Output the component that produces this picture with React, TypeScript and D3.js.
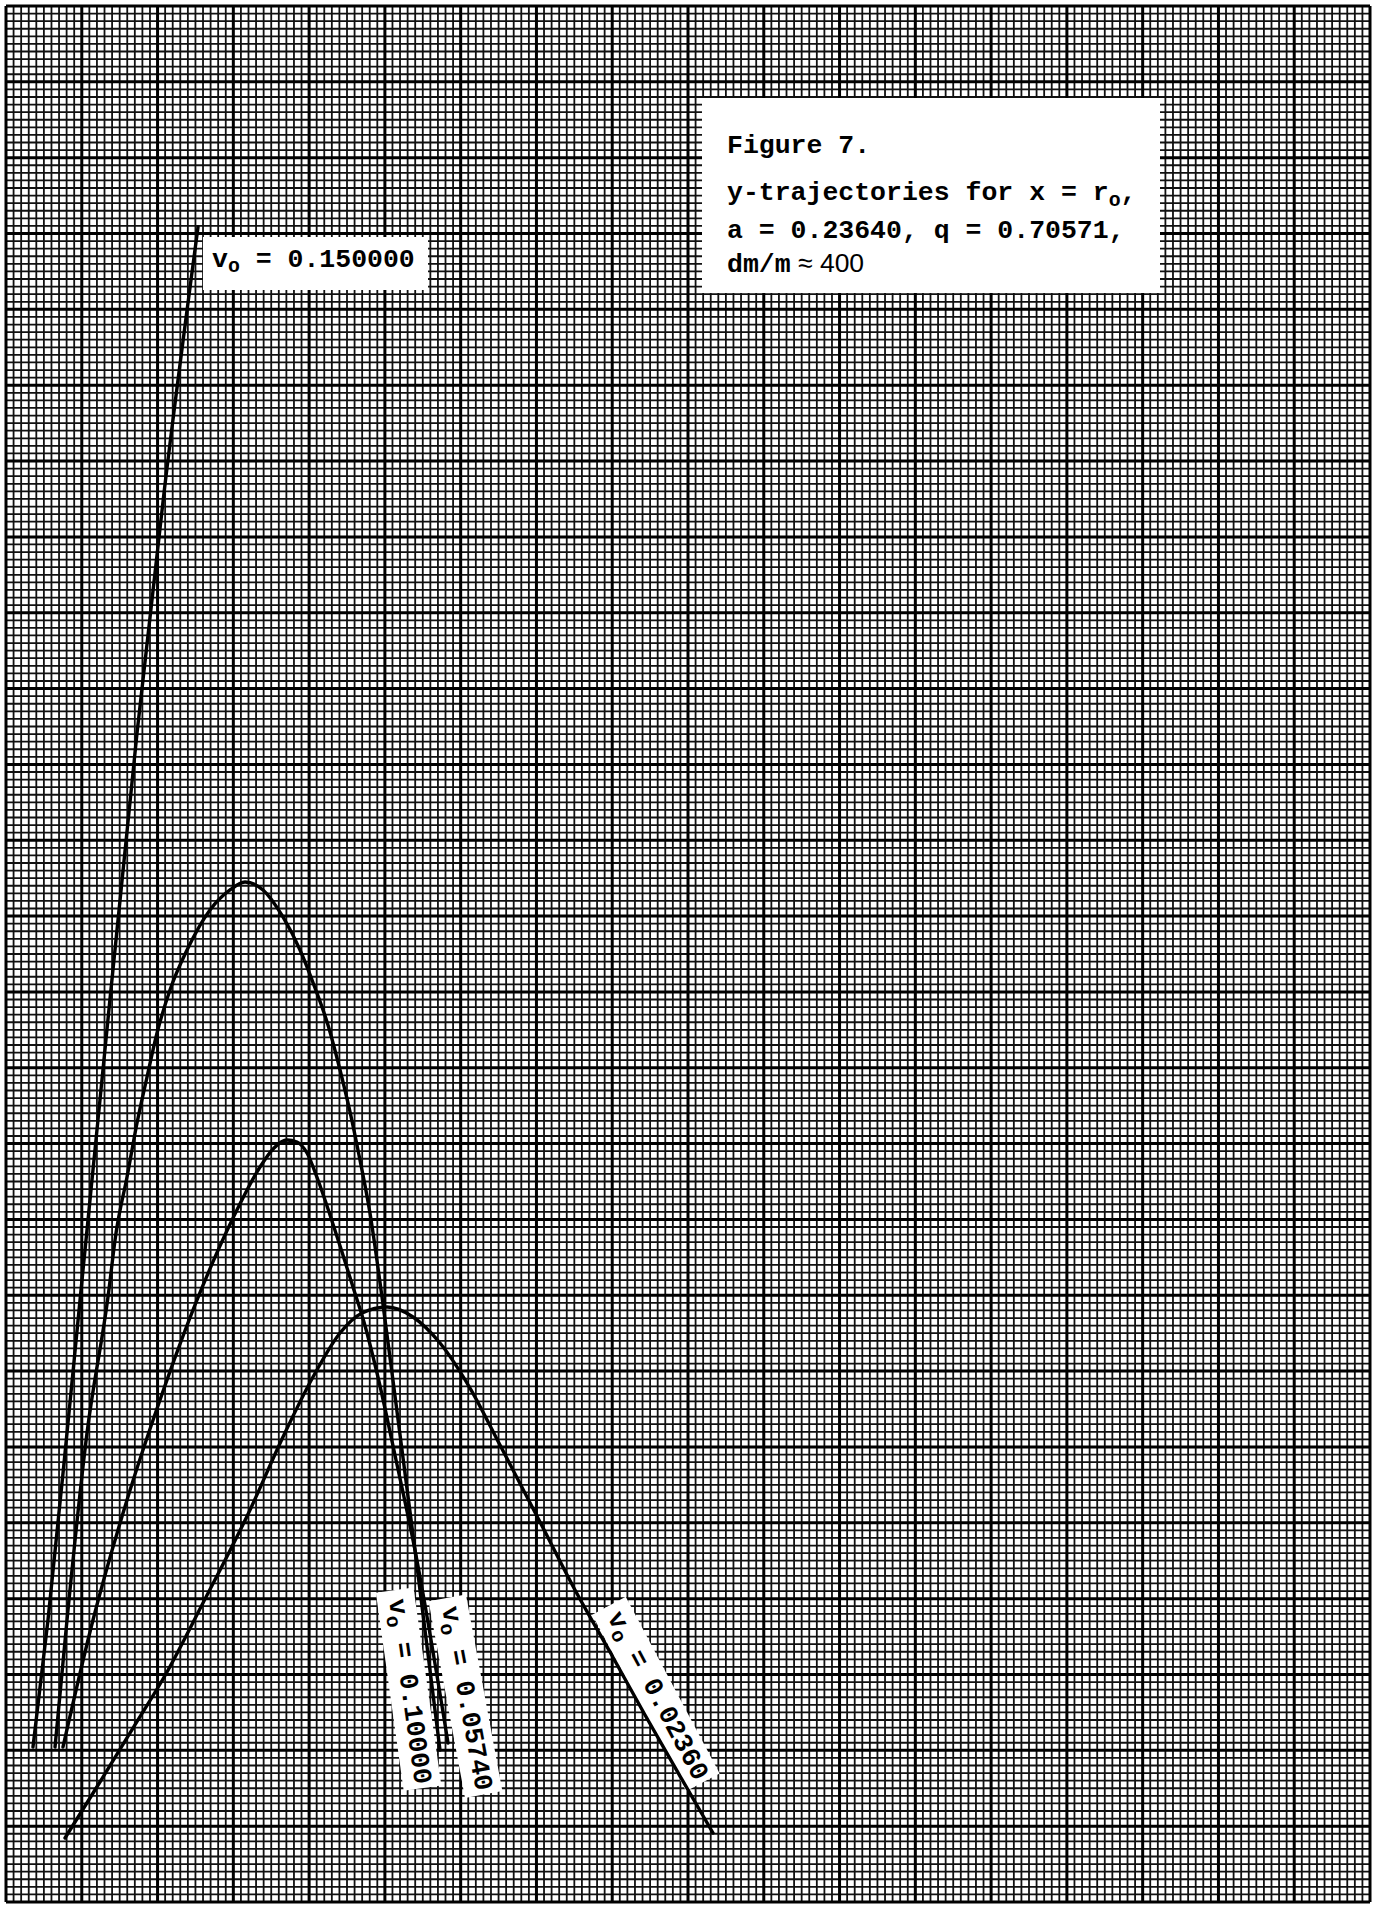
import React from 'react';
import * as d3 from 'd3';

// ---- data (grid units: minor divisions of the graph paper) ----
const gridCols = 180;
const gridRows = 250;
const majorEvery = 10;

const v150X = [3.56, 5.54, 8.05, 9.77, 12.40, 17.29, 20.85, 25.34];
const v150Y = [20.44, 37.18, 61.84, 79.38, 105.75, 154.14, 185.79, 220.86];

const v100X = [6.47, 8.05, 10.69, 13.46, 14.52, 15.97, 17.29, 18.61, 19.93, 21.64, 23.89, 26.92, 29.56, 31.54, 33.92, 36.55, 38.80, 40.78, 42.49, 44.08, 45.40, 46.58, 48.03, 49.62, 50.94, 53.97, 57.27];
const v100Y = [20.44, 37.18, 61.84, 79.77, 88.21, 95.60, 102.72, 108.78, 114.58, 120.25, 125.53, 130.80, 133.44, 134.49, 133.44, 129.88, 125.53, 120.52, 115.64, 109.70, 104.17, 98.50, 90.85, 79.77, 69.75, 46.41, 20.04];

const v0574X = [7.52, 11.48, 15.97, 20.32, 25.21, 29.96, 33.52, 35.37, 37.08, 38.40, 39.72, 41.17, 42.76, 44.34, 45.79, 47.24, 48.96, 51.47, 53.97, 58.33];
const v0574Y = [20.44, 37.18, 53.01, 66.19, 79.38, 90.19, 96.91, 99.42, 100.47, 100.21, 98.76, 95.20, 90.59, 85.71, 81.09, 76.48, 69.75, 58.28, 46.41, 20.97];

const v0236X = [7.79, 12.40, 16.76, 21.25, 25.86, 32.20, 36.55, 40.51, 44.08, 47.00, 50.28, 53.71, 57.27, 61.23, 65.19, 70.47, 75.09, 79.71, 84.33, 88.94, 93.30];
const v0236Y = [8.44, 15.82, 22.94, 30.33, 39.16, 51.69, 61.31, 69.22, 75.03, 77.66, 78.45, 77.14, 73.71, 67.77, 60.26, 50.11, 41.14, 32.96, 24.66, 16.61, 9.10];

const labelValues = ['0.150000', '0.10000', '0.05740', '0.02360'];

const titleLines = ['Figure 7.', 'y-trajectories for x = r', 'a = 0.23640, q = 0.70571,', 'dm/m'];

// ---- layout ----
const W = 1377;
const H = 1905;
const FONT = '"Liberation Mono", "Courier New", monospace';

const xs = d3.scaleLinear().domain([0, gridCols]).range([6, 1370]);
const ys = d3.scaleLinear().domain([0, gridRows]).range([1902, 6]);

const zip = (a: number[], b: number[]) => a.map((v, i) => [v, b[i]] as [number, number]);
const series = [zip(v150X, v150Y), zip(v100X, v100Y), zip(v0574X, v0574Y), zip(v0236X, v0236Y)];

const lineGen = d3
  .line<[number, number]>()
  .x((d) => xs(d[0]))
  .y((d) => ys(d[1]))
  .curve(d3.curveMonotoneX);

const rotated = [
  { x: 389, y: 1600, a: 82 },
  { x: 442, y: 1608, a: 79.5 },
  { x: 607, y: 1617, a: 62 },
];

function VLabel({ value, fs }: { value: string; fs: number }) {
  return (
    <text fontFamily={FONT} fontSize={fs} fontWeight="bold" fill="#000">
      <tspan>v</tspan>
      <tspan fontSize={fs * 0.75} dy={5}>o</tspan>
      <tspan dy={-5}>{' = ' + value}</tspan>
    </text>
  );
}

export default function App() {
  const fs = 26.5;
  const cols = d3.range(0, gridCols + 1);
  const rows = d3.range(0, gridRows + 1);
  return (
    <svg width={W} height={H} style={{ position: 'absolute', left: 0, top: 0, background: '#fff' }}>
      <rect x={0} y={0} width={W} height={H} fill="#fff" />
      <g>
        {cols
          .filter((c) => c % majorEvery !== 0)
          .map((c) => (
            <line key={'vc' + c} x1={xs(c)} x2={xs(c)} y1={ys(0)} y2={ys(gridRows)} stroke="#111" strokeWidth={1.8} />
          ))}
        {rows
          .filter((r) => r % majorEvery !== 0)
          .map((r) => (
            <line key={'hr' + r} y1={ys(r)} y2={ys(r)} x1={xs(0)} x2={xs(gridCols)} stroke="#111" strokeWidth={1.8} />
          ))}
        {cols
          .filter((c) => c % majorEvery === 0)
          .map((c) => (
            <line key={'vm' + c} x1={xs(c)} x2={xs(c)} y1={ys(0)} y2={ys(gridRows)} stroke="#000" strokeWidth={3} />
          ))}
        {rows
          .filter((r) => r % majorEvery === 0)
          .map((r) => (
            <line key={'hm' + r} y1={ys(r)} y2={ys(r)} x1={xs(0)} x2={xs(gridCols)} stroke="#000" strokeWidth={3} />
          ))}
      </g>

      {/* title box */}
      <rect x={702} y={98} width={458} height={195} fill="#fff" />
      <g fontFamily={FONT} fontSize={fs} fontWeight="bold" fill="#000">
        <text x={727} y={153}>{titleLines[0]}</text>
        <text x={727} y={200}>
          <tspan>{titleLines[1]}</tspan>
          <tspan fontSize={fs * 0.75} dy={6}>o</tspan>
          <tspan dy={-6}>,</tspan>
        </text>
        <text x={727} y={238}>{titleLines[2]}</text>
        <text x={727} y={272}>
          <tspan>{titleLines[3]}</tspan>
          <tspan fontFamily='"Liberation Sans", Arial, sans-serif' fontWeight="normal">{' \u2248 400'}</tspan>
        </text>
      </g>

      {/* label 0.150000 */}
      <rect x={203} y={237} width={225} height={53} fill="#fff" />
      <g transform="translate(212,267)">
        <VLabel value={labelValues[0]} fs={fs} />
      </g>

      {/* rotated labels */}
      {rotated.map((r, i) => (
        <g key={'rl' + i} transform={`translate(${r.x},${r.y}) rotate(${r.a})`}>
          <rect x={-9} y={-26} width={200} height={38} fill="#fff" />
          <VLabel value={labelValues[i + 1]} fs={fs} />
        </g>
      ))}

      {/* curves */}
      {series.map((s, i) => (
        <path key={'c' + i} d={lineGen(s) || ''} fill="none" stroke="#000" strokeWidth={3.4} strokeLinecap="round" strokeLinejoin="round" />
      ))}
    </svg>
  );
}
